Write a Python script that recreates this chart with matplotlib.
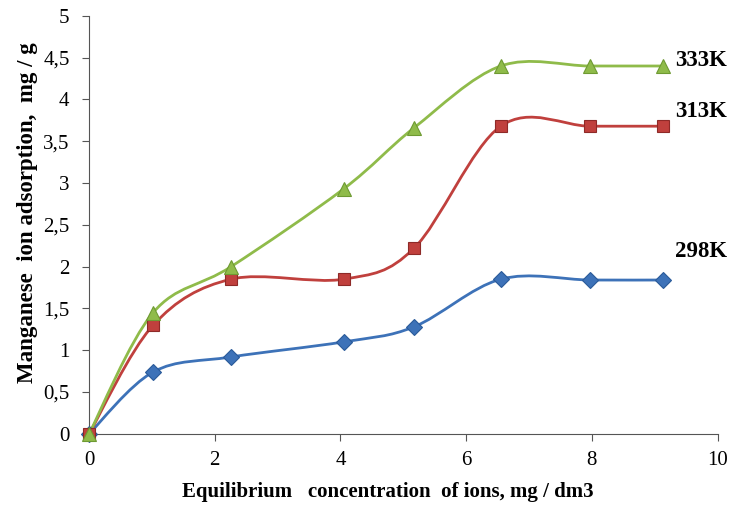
import matplotlib
matplotlib.use('Agg')
import matplotlib.pyplot as plt
from matplotlib.path import Path
from matplotlib.patches import PathPatch
import numpy as np

# концентрация, мг/дм3 и адсорбция, мг/г
conc = [0, 1.02, 2.26, 4.05, 5.17, 6.55, 7.97, 9.13]
ads_298 = [0, 0.74, 0.92, 1.10, 1.28, 1.85, 1.84, 1.84]
ads_313 = [0, 1.30, 1.85, 1.85, 2.22, 3.68, 3.68, 3.68]
ads_333 = [0, 1.45, 2.00, 2.93, 3.66, 4.40, 4.40, 4.40]
labels = ['298K', '313K', '333K']

plt.rcParams['font.family'] = ['Liberation Serif', 'DejaVu Serif']


def smooth_path(x, y):
    # сглаженная линия как в Excel (кривые Безье по соседним точкам)
    pts = np.column_stack([x, y])
    verts = [pts[0]]
    codes = [Path.MOVETO]
    n = len(pts)
    for i in range(n - 1):
        p0 = pts[i - 1] if i > 0 else pts[i]
        p1 = pts[i]
        p2 = pts[i + 1]
        p3 = pts[i + 2] if i + 2 < n else pts[i + 1]
        c1 = p1 + (p2 - p0) / 6
        c2 = p2 - (p3 - p1) / 6
        verts += [c1, c2, p2]
        codes += [Path.CURVE4] * 3
    return Path(verts, codes)


fig = plt.figure(figsize=(7.36, 5.11), dpi=100)
ax = fig.add_axes([0.121, 0.151, 0.854, 0.818])

series = [
    (ads_298, '#3d72b8', '#2a5a99', 'D', 8),
    (ads_313, '#c0403d', '#8e2a28', 's', 9),
    (ads_333, '#8fbb4a', '#6e9a32', '^', 10),
]
for y, col, edge, mk, ms in series:
    ax.add_patch(PathPatch(smooth_path(conc, y), facecolor='none',
                           edgecolor=col, lw=2, zorder=2))
    ax.plot(conc, y, ls='none', marker=mk, ms=ms, color=col,
            markeredgecolor=edge, markeredgewidth=0.8, zorder=3,
            clip_on=False)

# подписи температур
ax.text(9.33, 2.18, labels[0], fontsize=16.5, fontweight='bold', va='center')
ax.text(9.33, 3.85, labels[1], fontsize=16.5, fontweight='bold', va='center')
ax.text(9.33, 4.46, labels[2], fontsize=16.5, fontweight='bold', va='center')

ax.set_xlim(0, 10)
ax.set_ylim(0, 5)
ax.set_xticks(range(0, 11, 2))
ax.set_yticks(np.arange(0, 5.01, 0.5))
ax.set_yticklabels(['0', '0,5', '1', '1,5', '2', '2,5', '3', '3,5', '4', '4,5', '5'])
ax.tick_params(labelsize=15, direction='out', length=5, color='#555555')
ax.tick_params(axis='y', pad=9)
ax.tick_params(axis='x', pad=7)
ax.spines['top'].set_visible(False)
ax.spines['right'].set_visible(False)
ax.spines['left'].set_color('#555555')
ax.spines['bottom'].set_color('#555555')

ax.set_xlabel('Equilibrium   concentration  of ions, mg / dm3',
              fontsize=15, fontweight='bold', labelpad=8)
ax.set_ylabel('Manganese  ion adsorption,  mg / g',
              fontsize=16.5, fontweight='bold', labelpad=4)
ax.xaxis.set_label_coords(0.475, -0.115)
ax.yaxis.label.set_y(0.53)

plt.savefig('out.png', dpi=100)
